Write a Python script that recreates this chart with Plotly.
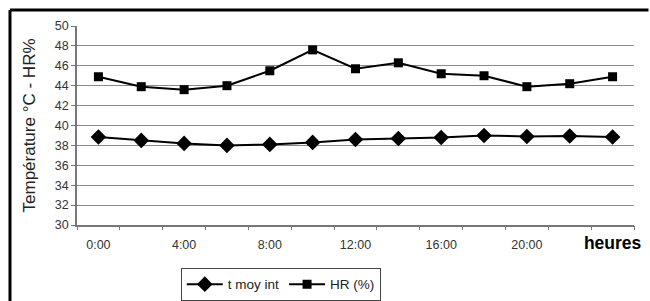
import plotly.graph_objects as go

hours = ["0:00", "2:00", "4:00", "6:00", "8:00", "10:00", "12:00",
         "14:00", "16:00", "18:00", "20:00", "22:00", "24:00"]
t_moy_int = [38.85, 38.5, 38.2, 38.0, 38.1, 38.3, 38.6, 38.7, 38.8, 39.0, 38.9, 38.95, 38.85]
hr = [44.9, 43.9, 43.6, 44.0, 45.5, 47.6, 45.7, 46.3, 45.2, 45.0, 43.9, 44.2, 44.9]
tick_idx = [0, 2, 4, 6, 8, 10, 12]
tick_text = ["0:00", "4:00", "8:00", "12:00", "16:00", "20:00",
             "<b><span style='font-size:17.5px;color:black'>heures</span></b>"]
y_title = "Température °C - HR%"

x = list(range(len(hours)))
FONT = "Liberation Sans, Arial, sans-serif"

fig = go.Figure()
fig.add_trace(go.Scatter(
    x=x, y=t_moy_int, name="t moy int", mode="lines+markers",
    line=dict(color="black", width=2),
    marker=dict(symbol="diamond", size=12, color="black"),
    hovertext=hours,
))
fig.add_trace(go.Scatter(
    x=x, y=hr, name="HR (%)", mode="lines+markers",
    line=dict(color="black", width=2),
    marker=dict(symbol="square", size=9, color="black"),
    hovertext=hours,
))
# invisible trace to anchor boundary tick axis
fig.add_trace(go.Scatter(x=[x[0]], y=[hr[0]], xaxis="x2", showlegend=False,
                         mode="markers", marker=dict(opacity=0), hoverinfo="skip"))

fig.update_layout(
    width=650, height=301,
    margin=dict(l=77, r=16, t=26, b=76),
    paper_bgcolor="white", plot_bgcolor="white",
    font=dict(family=FONT, color="#222"),
    xaxis=dict(
        range=[-0.5, len(hours) - 0.5], automargin=False,
        tickmode="array", tickvals=tick_idx, ticktext=tick_text,
        ticks="", showgrid=False, zeroline=False,
        showline=True, linecolor="#777", linewidth=1.5,
        tickfont=dict(size=12.5, color="#333"),
        ticklabelstandoff=7,
    ),
    xaxis2=dict(
        overlaying="x", anchor="y", side="bottom", automargin=False,
        range=[-0.5, len(hours) - 0.5],
        tickmode="linear", tick0=-0.5, dtick=1,
        ticks="outside", ticklen=4, tickcolor="#777", tickwidth=1,
        showticklabels=False, showgrid=False, zeroline=False,
    ),
    yaxis=dict(
        range=[30, 50], tickmode="linear", tick0=30, dtick=2, automargin=False,
        ticks="outside", ticklen=4, tickcolor="#777",
        showgrid=True, gridcolor="#8a8a8a", gridwidth=1,
        showline=True, linecolor="#777", linewidth=1.5, zeroline=False,
        tickfont=dict(size=12.5, color="#333"),
    ),
    legend=dict(
        orientation="h", xref="container", yref="container",
        x=0.432, y=0.11, xanchor="center", yanchor="top",
        bordercolor="#444", borderwidth=1, bgcolor="white",
        font=dict(size=13.5, color="#222"), itemwidth=36,
        itemsizing="trace", tracegroupgap=0,
    ),
    showlegend=True,
)

fig.add_annotation(text=y_title, xref="paper", yref="paper",
                   x=-0.0844, y=0.5, xanchor="center", yanchor="middle",
                   textangle=-90, showarrow=False,
                   font=dict(size=17, color="#222"))

fig.add_shape(type="line", xref="paper", yref="paper",
              x0=-0.1203, x1=1.026, y0=1.0804, y1=1.0804,
              line=dict(color="black", width=3))
fig.add_shape(type="line", xref="paper", yref="paper",
              x0=-0.1203, x1=-0.1203, y0=1.0804, y1=-0.45,
              line=dict(color="black", width=3))

fig.write_html("out.html", config={"displayModeBar": False},
               post_script="document.body.style.margin='0';document.body.style.overflow='hidden';")
